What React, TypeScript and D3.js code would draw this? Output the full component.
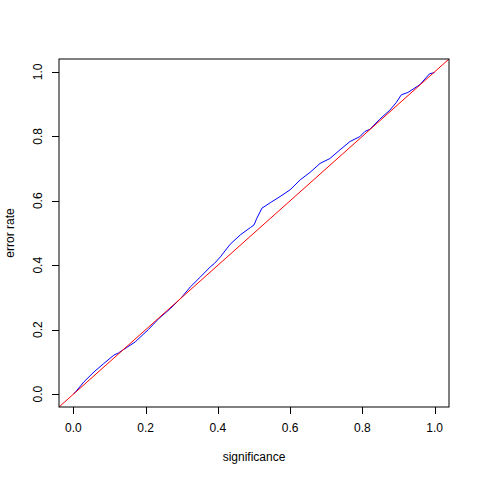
import React from 'react'
import { scaleLinear, line } from 'd3'

const significance = [
  0, 0.006, 0.029, 0.057, 0.084, 0.112, 0.125, 0.171, 0.208, 0.236, 0.269, 0.297,
  0.324, 0.352, 0.379, 0.39, 0.407, 0.434, 0.462, 0.49, 0.5, 0.508, 0.522, 0.545,
  0.572, 0.6, 0.628, 0.655, 0.683, 0.71, 0.738, 0.766, 0.793, 0.807, 0.821, 0.848,
  0.876, 0.894, 0.908, 0.926, 0.959, 0.986, 1.0,
]
const errorRate = [
  0, 0.007, 0.038, 0.069, 0.095, 0.121, 0.128, 0.162, 0.201, 0.234, 0.266, 0.297,
  0.333, 0.364, 0.395, 0.405, 0.426, 0.465, 0.494, 0.517, 0.525, 0.546, 0.577, 0.594,
  0.613, 0.634, 0.665, 0.688, 0.716, 0.731, 0.758, 0.784, 0.799, 0.815, 0.822, 0.853,
  0.881, 0.905, 0.929, 0.936, 0.96, 0.994, 0.998,
]
const ticks = [0, 0.2, 0.4, 0.6, 0.8, 1.0]
const diagonal = [-0.04, 1.04]

const W = 480
const H = 480
const left = 59
const right = 449
const top = 59
const bottom = 407
const font = 'Liberation Sans, Arial, Helvetica, sans-serif'

const App = () => {
  const x = scaleLinear().domain([-0.04, 1.04]).range([left, right])
  const y = scaleLinear().domain([-0.04, 1.04]).range([bottom, top])

  const pts: [number, number][] = significance.map((s, i) => [s, errorRate[i]])
  const path = line<[number, number]>()
    .x(d => x(d[0]))
    .y(d => y(d[1]))

  return (
    <svg width={W} height={H} style={{ position: 'absolute', left: 0, top: 0, background: '#fff' }}>
      <defs>
        <clipPath id='plot'>
          <rect x={left} y={top} width={right - left} height={bottom - top} />
        </clipPath>
      </defs>
      <rect width={W} height={H} fill='#fff' />

      <g clipPath='url(#plot)'>
        <path d={path(pts) || ''} fill='none' stroke='#0000ff' strokeWidth={1} />
        <line
          x1={x(diagonal[0])} y1={y(diagonal[0])}
          x2={x(diagonal[1])} y2={y(diagonal[1])}
          stroke='#ff0000' strokeWidth={1}
        />
      </g>

      {/* box, on whole pixels like R's soft grey-looking frame */}
      <rect x={left} y={top} width={right - left} height={bottom - top}
        fill='none' stroke='#000' strokeWidth={1} />

      {/* x axis */}
      <g fontFamily={font} fontSize={12} fill='#000'>
        {ticks.map(t => (
          <g key={'x' + t}>
            <line x1={Math.round(x(t)) + 0.5} x2={Math.round(x(t)) + 0.5} y1={bottom} y2={bottom + 7} stroke='#000' />
            <text x={x(t)} y={bottom + 25} textAnchor='middle'>{t.toFixed(1)}</text>
          </g>
        ))}
        <text x={(left + right) / 2} y={bottom + 54} textAnchor='middle'>significance</text>
      </g>

      {/* y axis */}
      <g fontFamily={font} fontSize={12} fill='#000'>
        {ticks.map(t => (
          <g key={'y' + t}>
            <line x1={left - 7} x2={left} y1={Math.round(y(t)) + 0.5} y2={Math.round(y(t)) + 0.5} stroke='#000' />
            <text transform={`translate(${left - 17},${y(t)}) rotate(-90)`} textAnchor='middle'>{t.toFixed(1)}</text>
          </g>
        ))}
        <text transform={`translate(14,${(top + bottom) / 2}) rotate(-90)`} textAnchor='middle'>error rate</text>
      </g>
    </svg>
  )
}

export default App
